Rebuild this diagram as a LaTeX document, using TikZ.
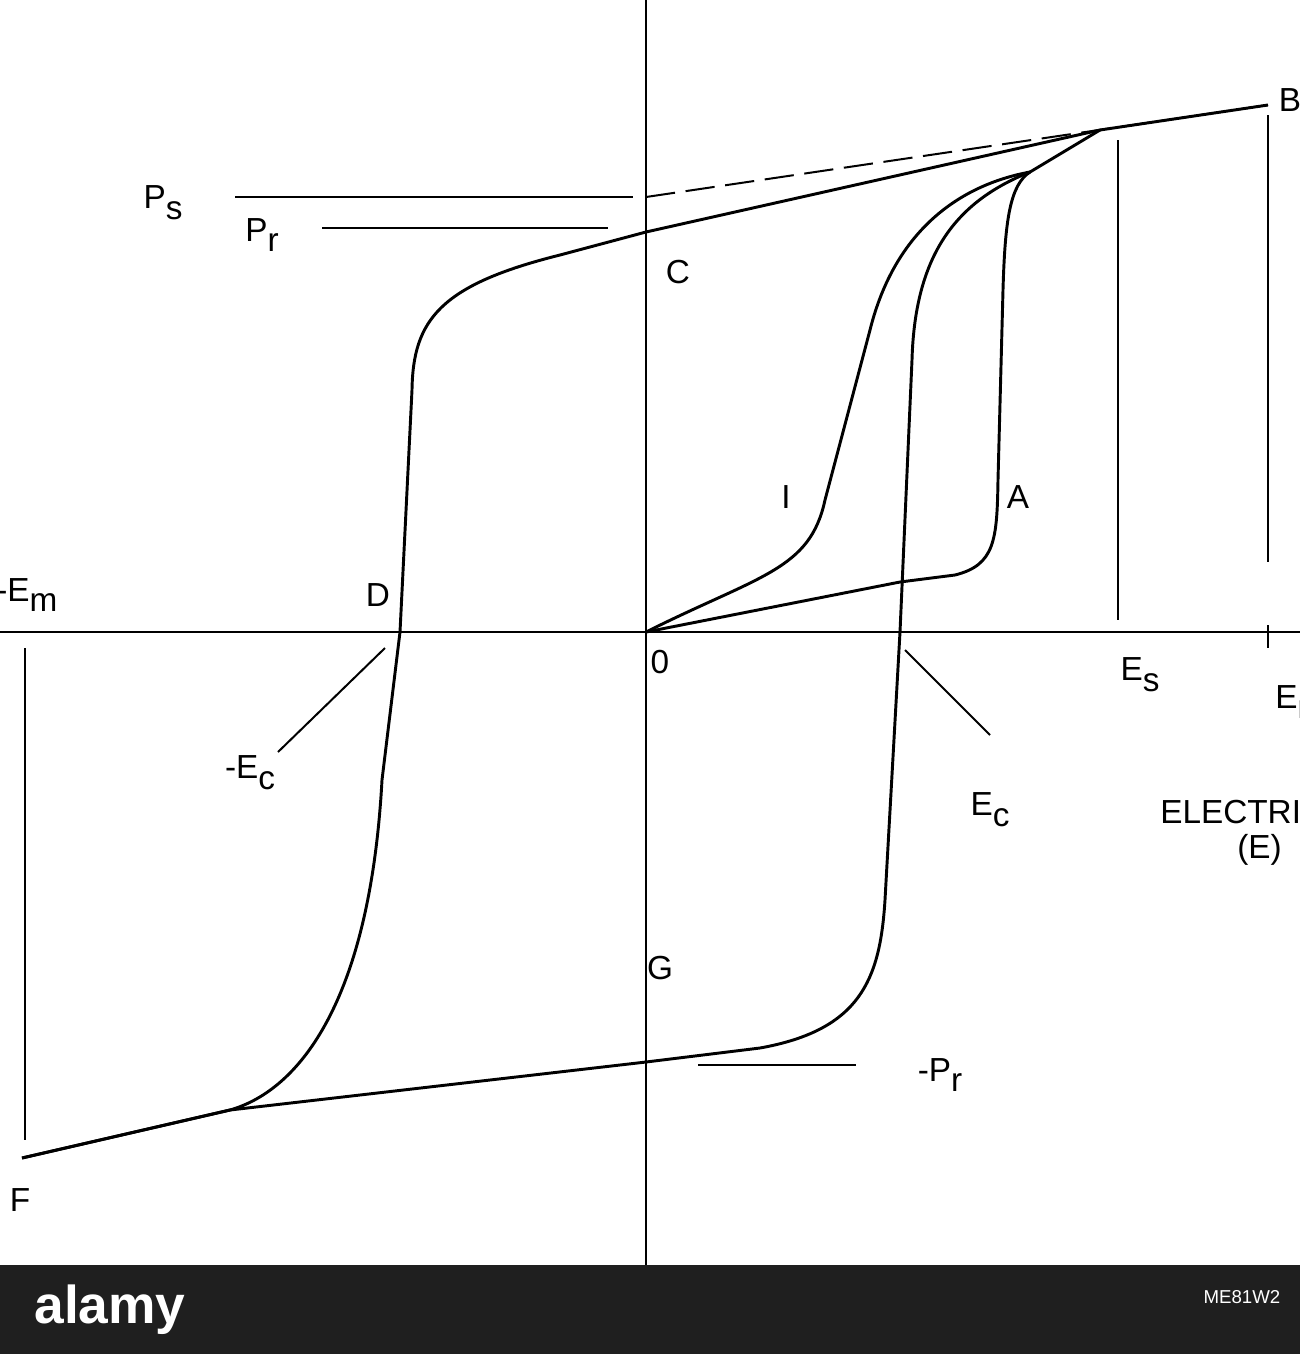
\documentclass[tikz,border=0pt]{standalone}
\usepackage{fontspec}
\setmainfont{Liberation Sans}
\begin{document}
\begin{tikzpicture}[x=0.75pt,y=-0.75pt,
  curve/.style={line width=2.2pt,line join=round},
  thin/.style={line width=1.5pt},
  lbl/.style={font=\fontsize{25}{27}\selectfont,inner sep=0pt}]
\useasboundingbox (0,0) rectangle (1300,1354);
\fill[white] (0,0) rectangle (1300,1354);
% axes
\coordinate (top) at (646,0); \coordinate (bot) at (646,1265);
\coordinate (lft) at (0,632); \coordinate (rgt) at (1300,632);
\draw[thin] (top) -- (bot);
\draw[thin] (lft) -- (rgt);
\coordinate (O) at (646,632);
\coordinate (B) at (1268,105);
\coordinate (K) at (1100,130);
\coordinate (C) at (646,232);
\coordinate (F) at (22,1158);
\coordinate (G) at (646,1062);
\coordinate (J) at (1030,172);
% dashed
\coordinate (Ps0) at (646,197);
\draw[thin,dashed,dash pattern=on 22pt off 8pt] (Ps0) -- (B);
% horizontal marks
\coordinate (psa) at (235,197); \coordinate (psb) at (633,197);
\draw[thin] (psa) -- (psb);
\coordinate (pra) at (322,228); \coordinate (prb) at (608,228);
\draw[thin] (pra) -- (prb);
\coordinate (mpa) at (698,1065); \coordinate (mpb) at (856,1065);
\draw[thin] (mpa) -- (mpb);
% vertical lines
\coordinate (es1) at (1118,140); \coordinate (es2) at (1118,620);
\draw[thin] (es1) -- (es2);
\coordinate (em1) at (1268,115); \coordinate (em2) at (1268,562);
\draw[thin] (em1) -- (em2);
\coordinate (em3) at (1268,625); \coordinate (em4) at (1268,648);
\draw[thin] (em3) -- (em4);
\coordinate (lm1) at (25,648); \coordinate (lm2) at (25,1140);
\draw[thin] (lm1) -- (lm2);
% Ec leaders
\coordinate (ec1) at (905,650); \coordinate (ec2) at (990,735);
\draw[thin] (ec1) -- (ec2);
\coordinate (mec1) at (385,648); \coordinate (mec2) at (278,752);
\draw[thin] (mec1) -- (mec2);
% hysteresis loop
\draw[curve] (B) -- (K) -- (C) -- (560,255)
  .. controls (440,285) and (413,320) .. (412,390)
  -- (400,632) -- (382,780)
  .. controls (370,1000) and (300,1090) .. (230,1110) -- (F);
\draw[curve] (F) -- (230,1110) -- (G) -- (760,1048)
  .. controls (860,1030) and (880,980) .. (885,900)
  -- (900,632) -- (912,360)
  .. controls (915,250) and (960,200) .. (J) -- (K);
% virgin curve
\draw[curve] (O) -- (900,582) -- (955,575)
  .. controls (995,565) and (997,540) .. (998,480)
  -- (1003,290) .. controls (1005,220) and (1010,185) .. (J);
% inner curve I
\draw[curve] (O) .. controls (760,575) and (810,570) .. (825,500)
  -- (870,330) .. controls (895,230) and (960,185) .. (J);
% labels
\node[lbl] (lB) at (1290,100) {B};
\node[lbl] (lPs) at (163,203) {P\raisebox{-8pt}{s}};
\node[lbl] (lPr) at (262,235) {P\raisebox{-8pt}{r}};
\node[lbl] (lC) at (678,272) {C};
\node[lbl] (lI) at (786,497) {I};
\node[lbl] (lA) at (1018,497) {A};
\node[lbl,anchor=west] (lEm) at (-4,595) {-E\raisebox{-8pt}{m}};
\node[lbl] (lD) at (378,595) {D};
\node[lbl] (lO) at (660,662) {0};
\node[lbl] (lEs) at (1140,675) {E\raisebox{-8pt}{s}};
\node[lbl,anchor=west] (lEmr) at (1275,702) {E\raisebox{-8pt}{m}};
\node[lbl] (lmEc) at (250,773) {-E\raisebox{-8pt}{c}};
\node[lbl] (lEc) at (990,810) {E\raisebox{-8pt}{c}};
\node[lbl,anchor=west] (lEl) at (1160,812) {ELECTRIC};
\node[lbl,anchor=west] (lE) at (1237,850) {(E)};
\node[lbl] (lG) at (660,968) {G};
\node[lbl] (lmPr) at (940,1075) {-P\raisebox{-8pt}{r}};
\node[lbl] (lF) at (20,1200) {F};
% banner
\fill[black!88] (0,1265) rectangle (1300,1354);
\node[font=\fontsize{40}{42}\selectfont\bfseries,text=white] (al) at (110,1310) {alamy};
\node[font=\fontsize{14}{16}\selectfont,text=white,anchor=east] (id) at (1285,1297) {ME81W2};
\end{tikzpicture}
\end{document}
